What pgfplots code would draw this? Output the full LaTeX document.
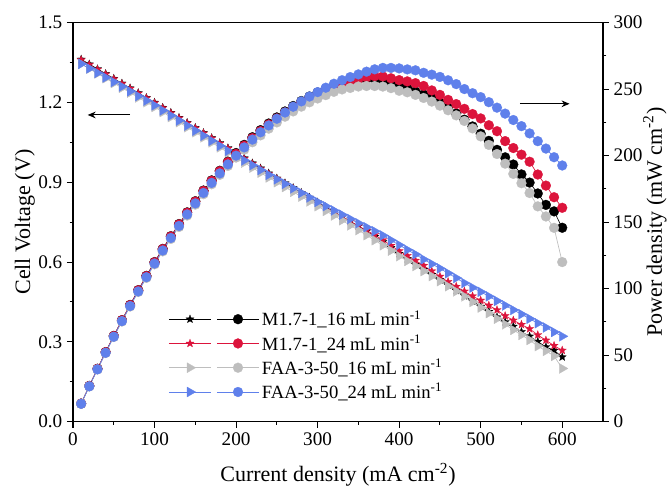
\documentclass[border=0pt]{standalone}
\usepackage{pgfplots}
\pgfplotsset{compat=1.18}
\usepackage{pgfplotstable}
\usepackage{fontspec}
\setmainfont{Liberation Serif}
\usetikzlibrary{arrows.meta}
\definecolor{cblack}{RGB}{0,0,0}
\definecolor{cred}{RGB}{220,20,60}
\definecolor{cgrey}{RGB}{190,190,190}
\definecolor{cblue}{RGB}{95,128,235}
\pgfdeclareplotmark{fstar}{%
  \pgfpathmoveto{\pgfpointpolar{90}{\pgfplotmarksize}}%
  \pgfpathlineto{\pgfpointpolar{126}{0.42\pgfplotmarksize}}%
  \pgfpathlineto{\pgfpointpolar{162}{\pgfplotmarksize}}%
  \pgfpathlineto{\pgfpointpolar{198}{0.42\pgfplotmarksize}}%
  \pgfpathlineto{\pgfpointpolar{234}{\pgfplotmarksize}}%
  \pgfpathlineto{\pgfpointpolar{270}{0.42\pgfplotmarksize}}%
  \pgfpathlineto{\pgfpointpolar{306}{\pgfplotmarksize}}%
  \pgfpathlineto{\pgfpointpolar{342}{0.42\pgfplotmarksize}}%
  \pgfpathlineto{\pgfpointpolar{18}{\pgfplotmarksize}}%
  \pgfpathlineto{\pgfpointpolar{54}{0.42\pgfplotmarksize}}%
  \pgfpathclose\pgfusepathqfillstroke}
\pgfplotstableread{
I Vb Vr Vg Vu Pb Pr Pg Pu
10 1.362 1.360 1.345 1.345 13.62 13.60 13.45 13.45
20 1.344 1.342 1.327 1.328 26.88 26.84 26.54 26.56
30 1.326 1.324 1.309 1.311 39.78 39.72 39.27 39.33
40 1.308 1.306 1.291 1.294 52.32 52.24 51.64 51.76
50 1.290 1.288 1.273 1.277 64.50 64.40 63.65 63.85
60 1.272 1.270 1.255 1.260 76.32 76.20 75.30 75.60
70 1.254 1.252 1.237 1.242 87.78 87.64 86.59 86.94
80 1.236 1.234 1.219 1.224 98.88 98.72 97.52 97.92
90 1.218 1.216 1.201 1.207 109.62 109.44 108.09 108.63
100 1.200 1.198 1.183 1.189 120.00 119.80 118.30 118.90
110 1.181 1.179 1.164 1.170 129.91 129.69 128.04 128.70
120 1.162 1.160 1.145 1.151 139.44 139.20 137.40 138.12
130 1.143 1.141 1.126 1.132 148.59 148.33 146.38 147.16
140 1.124 1.122 1.107 1.113 157.36 157.08 154.98 155.82
150 1.105 1.103 1.088 1.094 165.75 165.45 163.20 164.10
160 1.086 1.084 1.069 1.075 173.76 173.44 171.04 172.00
170 1.067 1.065 1.050 1.056 181.39 181.05 178.50 179.52
180 1.048 1.046 1.031 1.037 188.64 188.28 185.58 186.66
190 1.029 1.027 1.012 1.018 195.51 195.13 192.28 193.42
200 1.010 1.007 0.993 1.000 202.00 201.40 198.60 200.00
210 0.991 0.988 0.974 0.982 208.11 207.48 204.54 206.22
220 0.972 0.969 0.955 0.964 213.84 213.18 210.10 212.08
230 0.953 0.950 0.936 0.946 219.19 218.50 215.28 217.58
240 0.934 0.931 0.918 0.928 224.16 223.44 220.32 222.72
250 0.915 0.912 0.900 0.911 228.75 228.00 225.00 227.75
260 0.897 0.894 0.882 0.894 233.22 232.44 229.32 232.44
270 0.879 0.876 0.864 0.877 237.33 236.52 233.28 236.79
280 0.861 0.858 0.846 0.860 241.08 240.24 236.88 240.80
290 0.843 0.840 0.828 0.843 244.47 243.60 240.12 244.47
300 0.825 0.822 0.810 0.826 247.50 246.60 243.00 247.80
310 0.807 0.805 0.792 0.810 250.17 249.55 245.52 251.10
320 0.789 0.788 0.775 0.794 252.48 252.16 248.00 254.08
330 0.771 0.771 0.757 0.778 254.43 254.43 249.81 256.74
340 0.753 0.753 0.738 0.762 256.02 256.02 250.92 259.08
350 0.735 0.736 0.720 0.746 257.25 257.60 252.00 261.10
360 0.716 0.719 0.701 0.731 257.76 258.84 252.36 263.16
370 0.696 0.702 0.682 0.716 257.52 259.74 252.34 264.92
380 0.676 0.683 0.663 0.700 256.88 259.54 251.94 266.00
390 0.654 0.662 0.643 0.682 255.06 258.18 250.77 265.98
400 0.632 0.642 0.622 0.664 252.80 256.80 248.80 265.60
410 0.612 0.624 0.604 0.646 250.92 255.84 247.64 264.86
420 0.591 0.606 0.585 0.629 248.22 254.52 245.70 264.18
430 0.572 0.587 0.566 0.610 245.96 252.41 243.38 262.30
440 0.553 0.566 0.547 0.593 243.32 249.04 240.68 260.92
450 0.533 0.546 0.528 0.576 239.85 245.70 237.60 259.20
460 0.513 0.526 0.509 0.558 235.98 241.96 234.14 256.68
470 0.493 0.508 0.490 0.540 231.71 238.76 230.30 253.80
480 0.473 0.490 0.471 0.521 227.04 235.20 226.08 250.08
490 0.453 0.472 0.450 0.504 221.97 231.28 220.50 246.96
500 0.433 0.456 0.429 0.488 216.50 228.00 214.50 244.00
510 0.414 0.437 0.408 0.471 211.14 222.87 208.08 240.21
520 0.393 0.420 0.387 0.454 204.36 218.40 201.24 236.08
530 0.375 0.398 0.366 0.437 198.75 210.94 193.98 231.61
540 0.358 0.381 0.345 0.420 193.32 205.74 186.30 226.80
550 0.338 0.365 0.326 0.404 185.90 200.75 179.30 222.20
560 0.321 0.349 0.307 0.387 179.76 195.44 171.92 216.72
570 0.301 0.326 0.284 0.370 171.57 185.82 161.88 210.90
580 0.281 0.306 0.266 0.354 162.98 177.48 154.28 205.32
590 0.268 0.286 0.247 0.337 158.12 168.74 145.73 198.83
600 0.243 0.268 0.200 0.321 145.80 160.80 120.00 192.60
}\data
\pgfplotsset{
  myax/.style={
    at={(0,0)}, anchor=south west, scale only axis,
    width=397.5pt, height=299.25pt,
    xmin=0, xmax=650,
    tick align=outside,
    major tick length=4.5pt, minor tick length=2.5pt,
    every tick/.style={black, line width=0.8pt},
    axis line style={line width=0.8pt},
    tick label style={font=\fontsize{14.4}{17}\selectfont},
    label style={font=\fontsize{16.5}{19}\selectfont},
    /pgf/number format/assume math mode=true,
  },
  vstar/.style={#1, line width=0.5pt, mark=fstar, mark size=3.2pt, mark options={fill=#1, draw=#1, line width=0.2pt}},
  vtri/.style={#1, line width=0.5pt, mark=triangle*, mark size=4.3pt, mark options={rotate=-90, fill=#1, draw=#1, line width=0.2pt}},
  pcirc/.style={#1, line width=0.5pt, mark=*, mark size=3.7pt, mark options={fill=#1, draw=#1, line width=0.2pt}},
}
\begin{document}
\begin{tikzpicture}
\useasboundingbox (-54.75pt,-52pt) rectangle (446.25pt,316.25pt);
\begin{axis}[myax,
  ymin=0, ymax=1.5,
  xtick={0,100,...,600}, minor x tick num=1,
  ytick={0,0.3,...,1.5}, minor y tick num=1,
  xtick pos=left, ytick pos=left,
  yticklabel style={/pgf/number format/.cd, fixed, fixed zerofill, precision=1},
  xlabel={Current density (mA cm\textsuperscript{-2})},
  ylabel={Cell Voltage (V)},
  xlabel style={at={(axis description cs:0.5,-0.15)}, anchor=base},
  ylabel style={at={(axis description cs:-0.091,0.5)}, anchor=center},
]
\addplot[vstar=cblack] table[x=I, y=Vb] {\data};
\addplot[vstar=cred] table[x=I, y=Vr] {\data};
\addplot[vtri=cgrey] table[x=I, y=Vg] {\data};
\addplot[vtri=cblue] table[x=I, y=Vu] {\data};
\draw[-{Stealth[length=6pt,width=5pt]}, line width=0.8pt] (axis cs:70,1.153) -- (axis cs:18,1.153);
\end{axis}
\begin{axis}[myax,
  ymin=0, ymax=300,
  hide x axis,
  axis y line*=right,
  y axis line style={-},
  ytick={0,50,...,300}, minor y tick num=1,
  ylabel={Power density (mW cm\textsuperscript{-2})},
  ylabel style={at={(axis description cs:1.098,0.5)}, anchor=center},
  legend columns=2,
  legend cell align=left,
  legend style={at={(axis description cs:0.18,0.045)}, anchor=south west, draw=none, fill=none,
    font=\fontsize{14}{17}\selectfont, row sep=1pt, inner sep=0pt,
    /tikz/every even column/.append style={column sep=0pt}},
  legend image code/.code={\draw[mark repeat=2,mark phase=2] plot coordinates {(0pt,0pt) (15.75pt,0pt) (31.5pt,0pt)};},
]
\addlegendimage{vstar=cblack}\addlegendentry{}
\addlegendimage{pcirc=cblack}\addlegendentry{M1.7-1\_16 mL min\textsuperscript{-1}}
\addlegendimage{vstar=cred}\addlegendentry{}
\addlegendimage{pcirc=cred}\addlegendentry{M1.7-1\_24 mL min\textsuperscript{-1}}
\addlegendimage{vtri=cgrey}\addlegendentry{}
\addlegendimage{pcirc=cgrey}\addlegendentry{FAA-3-50\_16 mL min\textsuperscript{-1}}
\addlegendimage{vtri=cblue}\addlegendentry{}
\addlegendimage{pcirc=cblue}\addlegendentry{FAA-3-50\_24 mL min\textsuperscript{-1}}
\addplot[pcirc=cblack, forget plot] table[x=I, y=Pb] {\data};
\addplot[pcirc=cred, forget plot] table[x=I, y=Pr] {\data};
\addplot[pcirc=cgrey, forget plot] table[x=I, y=Pg] {\data};
\addplot[pcirc=cblue, forget plot] table[x=I, y=Pu] {\data};
\draw[-{Stealth[length=6pt,width=5pt]}, line width=0.8pt] (axis cs:548,239) -- (axis cs:609,239);
\end{axis}
\end{tikzpicture}
\end{document}
